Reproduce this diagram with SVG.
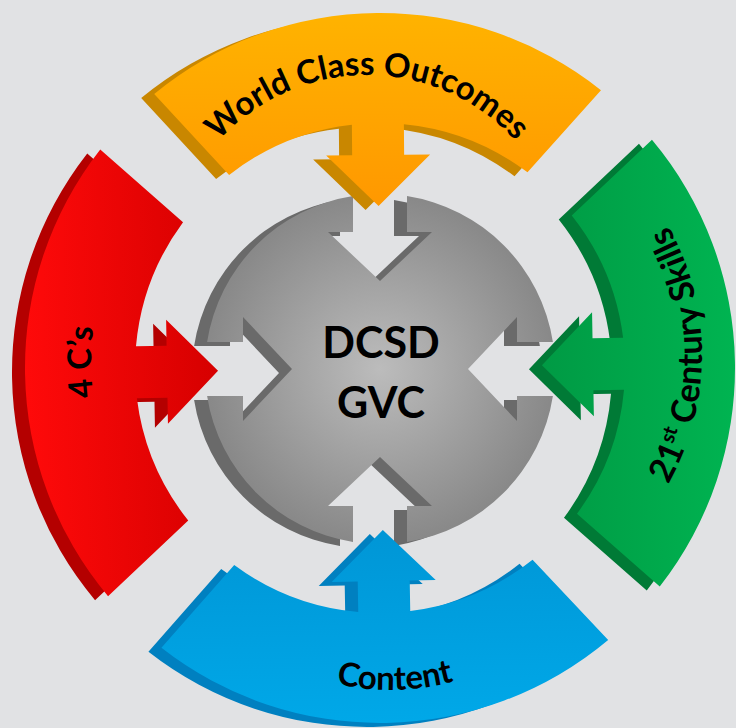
<svg xmlns="http://www.w3.org/2000/svg" width="736" height="728" viewBox="0 0 736 728">
<style>
.lbl{font-family:Lato,"Open Sans","Liberation Sans",sans-serif;font-weight:700;fill:#000;}
</style>
<defs>
<path id="band" d="M 275.9 -223.4 A 355 355 0 0 1 275.9 223.4 L 194.4 149.2 A 245 245 0 0 0 243.6 26 L 213 26 L 213 52 L 162 0 L 213 -52 L 213 -26 L 243.6 -26 A 245 245 0 0 0 194.4 -149.2 Z"/>
<path id="hub" d="M 27 -172.9 A 175 175 0 0 1 172.9 -27 L 137 -27 L 137 -52 L 88 0 L 137 52 L 137 27 L 172.9 27 A 175 175 0 0 1 27 172.9 L 27 137 L 52 137 L 0 88 L -52 137 L -27 137 L -27 172.9 A 175 175 0 0 1 -172.9 27 L -137 27 L -137 52 L -88 0 L -137 -52 L -137 -27 L -172.9 -27 A 175 175 0 0 1 -27 -172.9 L -27 -137 L -52 -137 L 0 -88 L 52 -137 L 27 -137 Z"/>
<radialGradient id="gGray" cx="0.5" cy="0.5" r="0.5">
<stop offset="0" stop-color="#bcbcbc"/>
<stop offset="1" stop-color="#898989"/>
</radialGradient>
<linearGradient id="gOrange" x1="1" y1="0" x2="0" y2="0">
<stop offset="0" stop-color="#ffb300"/>
<stop offset="1" stop-color="#ff9800"/>
</linearGradient>
<linearGradient id="gRed" x1="1" y1="0" x2="0" y2="0">
<stop offset="0" stop-color="#ff0a0a"/>
<stop offset="1" stop-color="#d60000"/>
</linearGradient>
<linearGradient id="gGreen" x1="1" y1="0" x2="0" y2="0">
<stop offset="0" stop-color="#00b451"/>
<stop offset="1" stop-color="#009a44"/>
</linearGradient>
<linearGradient id="gBlue" x1="1" y1="0" x2="0" y2="0">
<stop offset="0" stop-color="#00a8e8"/>
<stop offset="1" stop-color="#0096d6"/>
</linearGradient>
<path id="tpTop" d="M 167 275 A 200 200 0 0 1 567 275"/>
<path id="tpRight" d="M 438 619 A 264 264 0 0 0 438 91"/>
<path id="tpBottom" d="M 150 450 A 240 240 0 0 0 630 450"/>
<path id="tpLeft" d="M 355 626 A 264 264 0 0 1 355 98"/>
</defs>
<rect width="736" height="728" fill="#e1e2e4"/>

<g id="node-center">
<use href="#hub" transform="translate(367,373)" fill="#6a6a6a"/>
<use href="#hub" transform="translate(380,369)" fill="url(#gGray)"/>
<text class="lbl" x="381" y="358" font-size="43" text-anchor="middle">DCSD</text>
<text class="lbl" x="381" y="418" font-size="43" text-anchor="middle">GVC</text>
</g>

<g id="node-top">
<use href="#band" transform="translate(367,372) rotate(-90.5)" fill="#c98700"/>
<use href="#band" transform="translate(380,368) rotate(-90.5)" fill="url(#gOrange)"/>
<text class="lbl" font-size="33"><textPath href="#tpTop" startOffset="50%" text-anchor="middle">World Class Outcomes</textPath></text>
</g>

<g id="node-right">
<use href="#band" transform="translate(367,372) rotate(-1)" fill="#007a36"/>
<use href="#band" transform="translate(380,368) rotate(-1)" fill="url(#gGreen)"/>
<text class="lbl" font-size="34"><textPath href="#tpRight" startOffset="50%" text-anchor="middle">21<tspan font-size="20" dy="-13">st</tspan><tspan dy="13"> Century Skills</tspan></textPath></text>
</g>

<g id="node-bottom">
<use href="#band" transform="translate(367,372) rotate(89)" fill="#0080c0"/>
<use href="#band" transform="translate(380,368) rotate(89)" fill="url(#gBlue)"/>
<text class="lbl" font-size="33"><textPath href="#tpBottom" startOffset="382" text-anchor="middle">Content</textPath></text>
</g>

<g id="node-left">
<use href="#band" transform="translate(367,372) rotate(179)" fill="#b40000"/>
<use href="#band" transform="translate(380,368) rotate(179)" fill="url(#gRed)"/>
<text class="lbl" font-size="33"><textPath href="#tpLeft" startOffset="50%" text-anchor="middle">4 C’s</textPath></text>
</g>

<g id="connectors"></g>
</svg>
